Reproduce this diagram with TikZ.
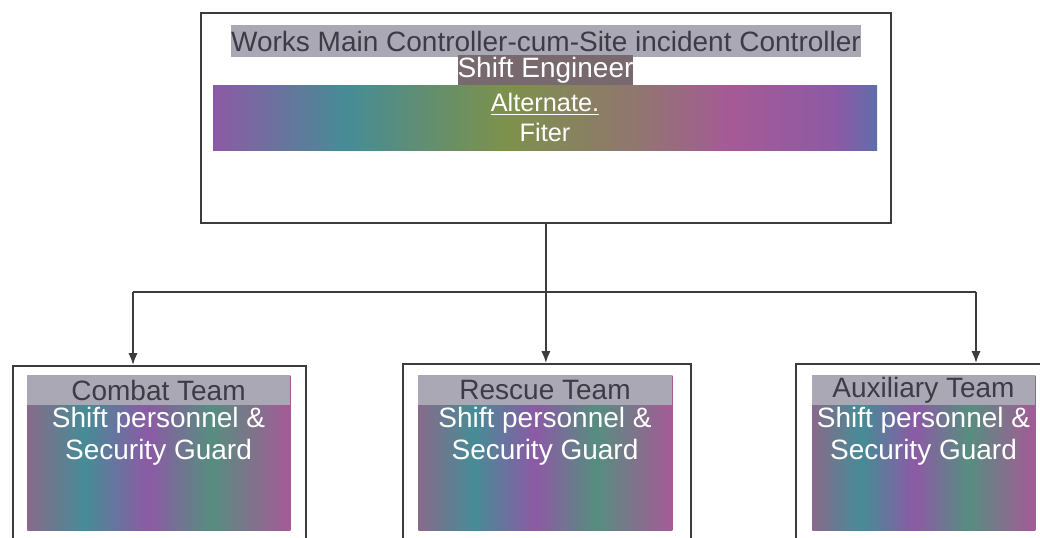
\documentclass[tikz,border=0pt]{standalone}
\usepackage{fontspec}
\setmainfont{Liberation Sans}
\usetikzlibrary{arrows.meta,calc}
\definecolor{linec}{RGB}{60,60,60}
\definecolor{bandgray}{RGB}{170,168,180}
\definecolor{darktxt}{RGB}{60,60,70}
\definecolor{engcol}{RGB}{120,105,110}
\definecolor{cpurple}{RGB}{140,90,165}
\definecolor{cteal}{RGB}{70,140,150}
\definecolor{cgreen}{RGB}{125,145,75}
\definecolor{cmag}{RGB}{165,90,150}
\definecolor{cblue}{RGB}{95,110,170}
\pgfdeclarehorizontalshading{topband}{100bp}{color(0bp)=(cpurple); color(25bp)=(cpurple); color(35bp)=(cteal); color(47bp)=(cgreen); color(57bp)=(cgreen!50!cmag); color(64bp)=(cmag); color(72bp)=(cpurple); color(75bp)=(cblue); color(100bp)=(cblue)}
\pgfdeclarehorizontalshading{teamband}{100bp}{color(0bp)=(cpurple); color(25bp)=(cpurple!70!cgreen); color(36bp)=(cteal); color(48bp)=(cpurple); color(60bp)=(cteal!70!cgreen); color(75bp)=(cmag); color(100bp)=(cmag)}
\tikzset{
  outerbox/.style={draw=linec, line width=1.3pt, fill=white, inner sep=0pt, anchor=north west},
  colorband/.style={shading=teamband, inner sep=0pt, anchor=north west},
  grayband/.style={fill=bandgray, inner sep=0pt, anchor=north west, text=darktxt},
  lbl/.style={font=\fontsize{21}{24}\selectfont, inner sep=0pt, align=center},
  small/.style={font=\fontsize{19}{22}\selectfont},
  conn/.style={draw=linec, line width=1.3pt},
  arr/.style={conn, -{Latex[length=9pt,width=7pt]}}
}
\begin{document}
\begin{tikzpicture}[x=0.75pt,y=-0.75pt]
\clip (0,0) rectangle (1040,537);
\fill[white] (0,0) rectangle (1040,537);
% top box
\node[outerbox, minimum width=517.5pt, minimum height=157.5pt] (top) at (200,12) {};
\node[grayband, lbl, anchor=center, minimum width=471pt, minimum height=24pt] (title) at (546,41) {Works Main Controller-cum-Site incident Controller};
\node[shading=topband, inner sep=0pt, minimum width=498pt, minimum height=48.75pt] (band) at (545,117.5) {};
\node[lbl, small, text=white] (alt) at (545,104) {\underline{Alternate.}};
\node[lbl, small, text=white] (fiter) at (545,132) {Fiter};
\node[lbl, fill=engcol, text=white, minimum width=129.75pt, minimum height=22.5pt] (eng) at (545.5,70) {Shift Engineer};
% team boxes
\node[outerbox, minimum width=219.75pt, minimum height=142.5pt] (b1) at (12,365) {};
\node[colorband, minimum width=197.25pt, minimum height=116.25pt] (c1) at (27,375) {};
\node[grayband, minimum width=197.25pt, minimum height=22.5pt] (g1) at (27,375) {};
\node[lbl, text=darktxt] (n1) at (158.5,390) {Combat Team};
\node[lbl, text=white] (s1) at (158.5,436) {Shift personnel \&\\Security Guard};

\node[outerbox, minimum width=216pt, minimum height=142.5pt] (b2) at (402,363) {};
\node[colorband, minimum width=190.5pt, minimum height=116.25pt] (c2) at (418,375) {};
\node[grayband, minimum width=190.5pt, minimum height=22.5pt] (g2) at (418,375) {};
\node[lbl, text=darktxt] (n2) at (545,390) {Rescue Team};
\node[lbl, text=white] (s2) at (545,436) {Shift personnel \&\\Security Guard};

\node[outerbox, minimum width=195pt, minimum height=142.5pt] (b3) at (795,363) {};
\node[colorband, minimum width=167.25pt, minimum height=116.25pt] (c3) at (812,375) {};
\node[grayband, minimum width=167.25pt, minimum height=22.5pt] (g3) at (812,375) {};
\node[lbl, text=darktxt] (n3) at (923.5,390) {Auxiliary Team};
\node[lbl, text=white] (s3) at (923.5,436) {Shift personnel \&\\Security Guard};
% connectors
\coordinate (hub) at ($(top.south)+(0,68)$);
\coordinate (t1) at (hub -| 133,0);
\coordinate (t3) at (hub -| 976,0);
\draw[conn] (top.south) -- (hub);
\draw[conn] (t1) -- (t3);
\draw[arr] (t1) -- (t1 |- b1.north);
\draw[arr] (hub) -- (hub |- b2.north);
\draw[arr] (t3) -- (t3 |- b3.north);
\end{tikzpicture}
\end{document}
